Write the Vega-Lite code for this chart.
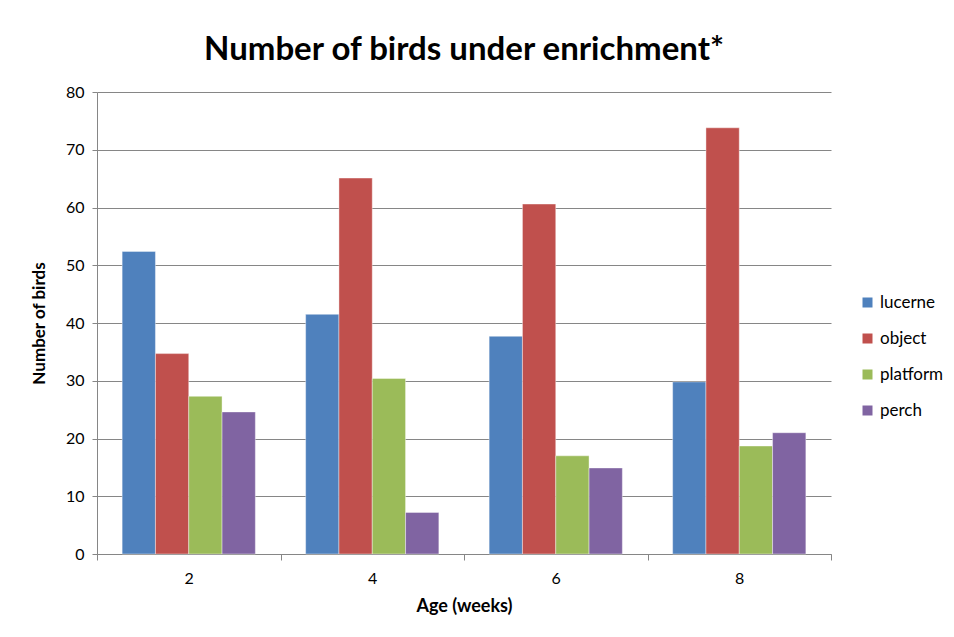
{
  "$schema": "https://vega.github.io/schema/vega-lite/v6.json",
  "autosize": {"type": "none"},
  "padding": {"left": 97, "top": 92, "right": 123, "bottom": 83},
  "width": 734,
  "height": 462,
  "background": "white",
  "title": {"text": "Number of birds under enrichment*", "font": "Lato", "fontSize": 33, "fontWeight": "bold", "color": "#000000", "anchor": "middle", "offset": 17},
  "data": {"values": [
    {"age": "2", "type": "lucerne", "birds": 52.4},
    {"age": "2", "type": "object", "birds": 34.7},
    {"age": "2", "type": "platform", "birds": 27.3},
    {"age": "2", "type": "perch", "birds": 24.6},
    {"age": "4", "type": "lucerne", "birds": 41.5},
    {"age": "4", "type": "object", "birds": 65.1},
    {"age": "4", "type": "platform", "birds": 30.4},
    {"age": "4", "type": "perch", "birds": 7.2},
    {"age": "6", "type": "lucerne", "birds": 37.7},
    {"age": "6", "type": "object", "birds": 60.6},
    {"age": "6", "type": "platform", "birds": 17.0},
    {"age": "6", "type": "perch", "birds": 14.9},
    {"age": "8", "type": "lucerne", "birds": 29.8},
    {"age": "8", "type": "object", "birds": 73.8},
    {"age": "8", "type": "platform", "birds": 18.7},
    {"age": "8", "type": "perch", "birds": 21.0}
  ]},
  "mark": {"type": "bar", "stroke": "#ffffff", "strokeOpacity": 0.5, "strokeWidth": 0.8},
  "encoding": {
    "x": {"field": "age", "type": "nominal", "sort": ["2", "4", "6", "8"],
      "scale": {"paddingInner": 0, "paddingOuter": 0},
      "axis": {"title": "Age (weeks)", "titleFont": "Lato", "titleFontSize": 18, "titleFontWeight": "bold", "titleColor": "#000", "titlePadding": 11,
        "labelFont": "Lato", "labelFontSize": 16, "labelColor": "#000", "labelAngle": 0, "labelPadding": 10,
        "tickBand": "extent", "tickColor": "#868686", "tickSize": 6, "domainColor": "#868686", "grid": false}},
    "xOffset": {"field": "type", "type": "nominal", "sort": ["lucerne", "object", "platform", "perch"], "scale": {"paddingInner": 0, "paddingOuter": 0.755}},
    "y": {"field": "birds", "type": "quantitative",
      "scale": {"domain": [0, 80], "nice": false},
      "axis": {"title": "Number of birds", "titleFont": "Lato", "titleFontSize": 17, "titleFontWeight": "bold", "titleColor": "#000", "titlePadding": 17,
        "values": [0, 10, 20, 30, 40, 50, 60, 70, 80],
        "labelFont": "Lato", "labelFontSize": 16, "labelColor": "#000", "labelPadding": 8,
        "tickColor": "#868686", "tickSize": 5, "domainColor": "#868686",
        "grid": true, "gridColor": "#868686", "gridWidth": 1}},
    "color": {"field": "type", "type": "nominal", "sort": ["lucerne", "object", "platform", "perch"],
      "scale": {"domain": ["lucerne", "object", "platform", "perch"], "range": ["#4F81BD", "#C0504D", "#9BBB59", "#8064A2"]},
      "legend": {"title": null, "orient": "none", "legendX": 762, "legendY": 202, "symbolType": "square", "symbolSize": 100, "symbolStrokeWidth": 0,
        "labelFont": "Lato", "labelFontSize": 17, "labelColor": "#000", "labelOffset": 4, "rowPadding": 18}}
  },
  "config": {"view": {"stroke": null}, "axis": {"domainWidth": 1, "tickWidth": 1}}
}
